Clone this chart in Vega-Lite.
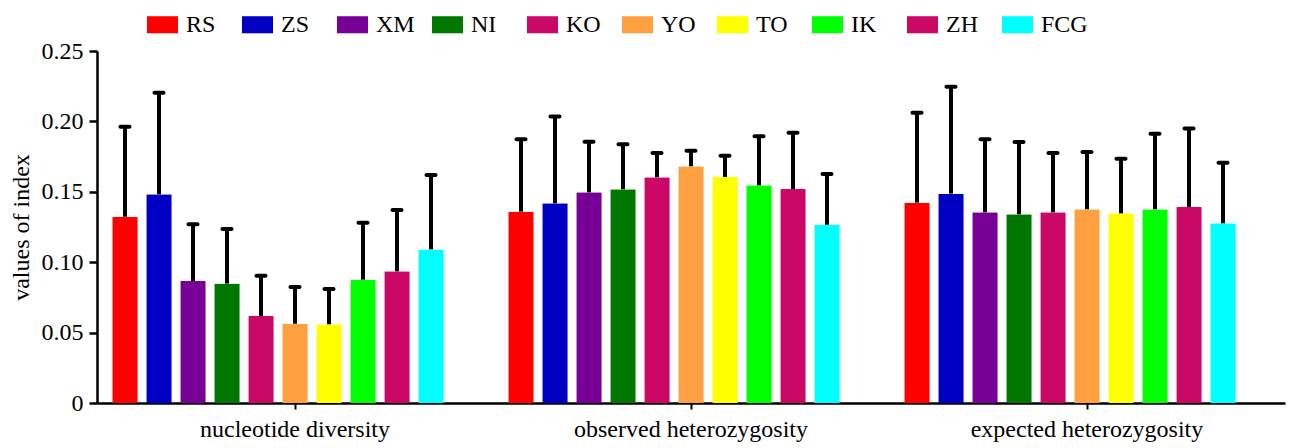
{
  "$schema": "https://vega.github.io/schema/vega-lite/v6.json",
  "width": 1188,
  "height": 352,
  "autosize": {"type": "none"},
  "padding": {"left": 97, "top": 51, "right": 13, "bottom": 45},
  "background": "white",
  "config": {
    "view": {"stroke": null},
    "font": "Liberation Serif"
  },
  "data": {
    "values": [
      {"group": "nucleotide diversity", "pop": "RS", "mean": 0.1323, "upper": 0.1962},
      {"group": "nucleotide diversity", "pop": "ZS", "mean": 0.1482, "upper": 0.2204},
      {"group": "nucleotide diversity", "pop": "XM", "mean": 0.0866, "upper": 0.1269},
      {"group": "nucleotide diversity", "pop": "NI", "mean": 0.0848, "upper": 0.1236},
      {"group": "nucleotide diversity", "pop": "KO", "mean": 0.0618, "upper": 0.0904},
      {"group": "nucleotide diversity", "pop": "YO", "mean": 0.0563, "upper": 0.0824},
      {"group": "nucleotide diversity", "pop": "TO", "mean": 0.0559, "upper": 0.0810},
      {"group": "nucleotide diversity", "pop": "IK", "mean": 0.0876, "upper": 0.1280},
      {"group": "nucleotide diversity", "pop": "ZH", "mean": 0.0935, "upper": 0.1371},
      {"group": "nucleotide diversity", "pop": "FCG", "mean": 0.1091, "upper": 0.1619},
      {"group": "observed heterozygosity", "pop": "RS", "mean": 0.1359, "upper": 0.1873},
      {"group": "observed heterozygosity", "pop": "ZS", "mean": 0.1418, "upper": 0.2034},
      {"group": "observed heterozygosity", "pop": "XM", "mean": 0.1496, "upper": 0.1856},
      {"group": "observed heterozygosity", "pop": "NI", "mean": 0.1518, "upper": 0.1837},
      {"group": "observed heterozygosity", "pop": "KO", "mean": 0.1603, "upper": 0.1776},
      {"group": "observed heterozygosity", "pop": "YO", "mean": 0.1681, "upper": 0.1792},
      {"group": "observed heterozygosity", "pop": "TO", "mean": 0.1605, "upper": 0.1756},
      {"group": "observed heterozygosity", "pop": "IK", "mean": 0.1546, "upper": 0.1894},
      {"group": "observed heterozygosity", "pop": "ZH", "mean": 0.1520, "upper": 0.1920},
      {"group": "observed heterozygosity", "pop": "FCG", "mean": 0.1266, "upper": 0.1626},
      {"group": "expected heterozygosity", "pop": "RS", "mean": 0.1423, "upper": 0.2062},
      {"group": "expected heterozygosity", "pop": "ZS", "mean": 0.1487, "upper": 0.2246},
      {"group": "expected heterozygosity", "pop": "XM", "mean": 0.1354, "upper": 0.1873},
      {"group": "expected heterozygosity", "pop": "NI", "mean": 0.1340, "upper": 0.1854},
      {"group": "expected heterozygosity", "pop": "KO", "mean": 0.1354, "upper": 0.1776},
      {"group": "expected heterozygosity", "pop": "YO", "mean": 0.1376, "upper": 0.1783},
      {"group": "expected heterozygosity", "pop": "TO", "mean": 0.1347, "upper": 0.1735},
      {"group": "expected heterozygosity", "pop": "IK", "mean": 0.1376, "upper": 0.1913},
      {"group": "expected heterozygosity", "pop": "ZH", "mean": 0.1392, "upper": 0.1949},
      {"group": "expected heterozygosity", "pop": "FCG", "mean": 0.1276, "upper": 0.1707}
    ]
  },
  "encoding": {
    "x": {
      "field": "group",
      "type": "nominal",
      "sort": ["nucleotide diversity", "observed heterozygosity", "expected heterozygosity"],
      "scale": {"paddingInner": 0, "paddingOuter": 0},
      "axis": {
        "title": null,
        "labelAngle": 0,
        "labelFont": "Liberation Serif",
        "labelFontSize": 24,
        "labelColor": "black",
        "labelPadding": 8,
        "labelLimit": 0,
        "tickSize": 6,
        "tickWidth": 2,
        "tickColor": "black",
        "domainColor": "black",
        "domainWidth": 2.5
      }
    },
    "xOffset": {
      "field": "pop",
      "type": "nominal",
      "scale": {
        "domain": ["RS", "ZS", "XM", "NI", "KO", "YO", "TO", "IK", "ZH", "FCG", "_pad"],
        "paddingInner": 0.25,
        "paddingOuter": 0.448
      }
    }
  },
  "layer": [
    {
      "mark": {"type": "bar", "cornerRadius": 1},
      "encoding": {
        "y": {
          "field": "mean",
          "type": "quantitative",
          "scale": {"domain": [0, 0.25], "nice": false},
          "axis": {
            "title": "values of index",
            "values": [0, 0.05, 0.1, 0.15, 0.2, 0.25],
            "labelExpr": "datum.value == 0 ? '0' : format(datum.value, '.2f')",
            "grid": false,
            "labelFont": "Liberation Serif",
            "labelFontSize": 24,
            "labelColor": "black",
            "labelPadding": 6,
            "tickSize": 8,
            "tickWidth": 2.5,
            "tickColor": "black",
            "domainColor": "black",
            "domainWidth": 2.5,
            "titleFont": "Liberation Serif",
            "titleFontSize": 24,
            "titleFontWeight": "normal",
            "titleColor": "black",
            "titlePadding": 8
          }
        },
        "color": {
          "field": "pop",
          "type": "nominal",
          "scale": {
            "domain": ["RS", "ZS", "XM", "NI", "KO", "YO", "TO", "IK", "ZH", "FCG"],
            "range": ["#ff0000", "#0000c4", "#780096", "#007800", "#cc0866", "#ffa040", "#ffff00", "#00ff00", "#cc0866", "#00ffff"]
          },
          "legend": {
            "title": null,
            "orient": "none",
            "legendX": 50,
            "legendY": -42,
            "direction": "horizontal",
            "columns": 10,
            "gridAlign": "all",
            "columnPadding": 9,
            "padding": 0,
            "symbolType": "M-1,-0.55H1V0.55H-1Z",
            "symbolSize": 961,
            "symbolStrokeWidth": 0,
            "symbolOpacity": 1,
            "labelFont": "Liberation Serif",
            "labelFontSize": 24,
            "labelColor": "black",
            "labelOffset": 8,
            "labelLimit": 200
          }
        }
      }
    },
    {
      "mark": {"type": "rule", "color": "black", "strokeWidth": 4},
      "encoding": {
        "y": {"field": "mean", "type": "quantitative"},
        "y2": {"field": "upper"}
      }
    },
    {
      "mark": {"type": "tick", "color": "black", "thickness": 4, "size": 13, "cornerRadius": 2, "opacity": 1},
      "encoding": {
        "y": {"field": "upper", "type": "quantitative"}
      }
    }
  ]
}
